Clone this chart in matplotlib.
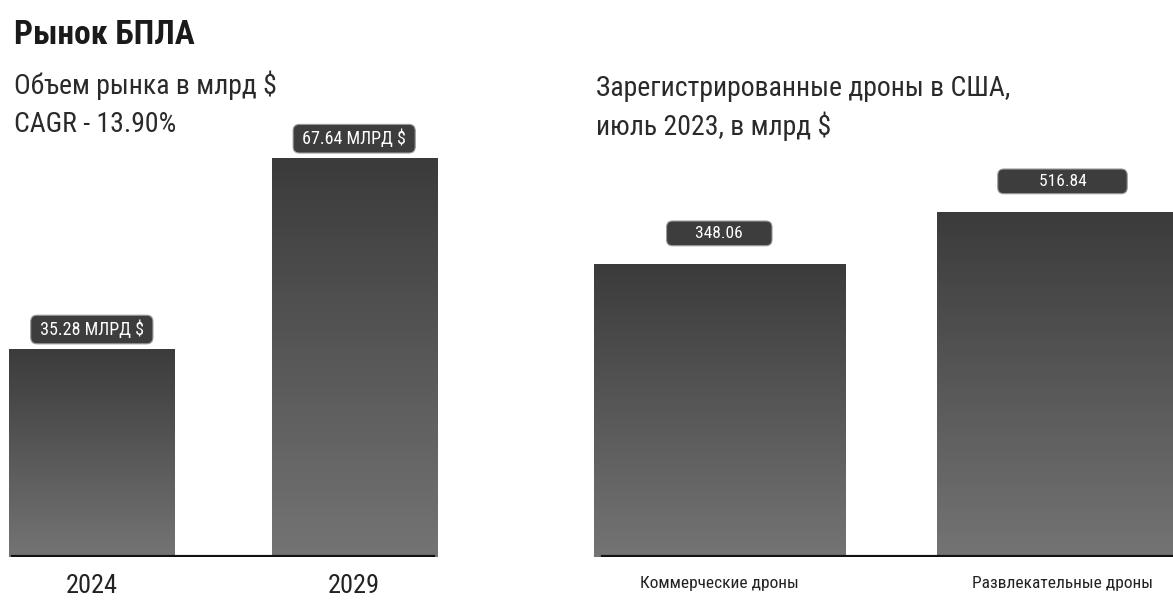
import numpy as np
import matplotlib
matplotlib.use('Agg')
import matplotlib.pyplot as plt
from matplotlib.colors import LinearSegmentedColormap

plt.rcParams['font.family'] = ['Roboto Condensed', 'DejaVu Sans']

# data
years = ['2024', '2029']
market = [35.28, 67.64]
market_labels = [' 35.28 МЛРД $ ', ' 67.64 МЛРД $ ']

drone_types = ['Коммерческие дроны', 'Развлекательные дроны']
drones = [348.06, 516.84]
drone_labels = ['      348.06      ', '         516.84         ']

grad = LinearSegmentedColormap.from_list('g', ['#3b3b3b', '#747474'])
box = dict(boxstyle='round,pad=0.28,rounding_size=0.35', fc='#3d3d3d', ec='#9a9a9a', lw=0.8)


def gradient_bars(ax, x, vals, width, base=0):
    bars = ax.bar(x, np.array(vals) - base, width, bottom=base, color='none', zorder=2)
    g = np.linspace(0, 1, 256).reshape(-1, 1)
    for b in bars:
        x0, y0 = b.get_x(), b.get_y()
        im = ax.imshow(g, cmap=grad, aspect='auto', origin='upper',
                       extent=[x0, x0 + b.get_width(), y0, y0 + b.get_height()], zorder=1)
        im.set_clip_path(b)
    return bars


def style(ax):
    for s in ax.spines.values():
        s.set_visible(False)
    ax.set_yticks([])
    ax.tick_params(axis='x', length=0)


fig = plt.figure(figsize=(11.73, 6.01), dpi=100)

# left: market volume
ax1 = fig.add_axes([0.0, 0.0732, 446 / 1173, 457 / 601])
x = np.arange(len(years))
gradient_bars(ax1, x, market, 0.63)
ax1.set_xlim(-0.35, 1.35)
ax1.set_ylim(0, 77.5)
ax1.axhline(0, xmin=0.03, xmax=0.97, color='#111111', lw=3, zorder=3)
ax1.set_xticks(x)
ax1.set_xticklabels(years, fontsize=19, color='#222222')
ax1.tick_params(axis='x', pad=12)
for xi, v, lab in zip(x, market, market_labels):
    ax1.annotate(lab, (xi, v), xytext=(0, 14), textcoords='offset points',
                 ha='center', va='center', fontsize=13, color='white', bbox=box)
style(ax1)

# right: registered drones
base = -603
ax2 = fig.add_axes([582 / 1173, 0.0732, (1173 - 582) / 1173, 457 / 601])
x2 = np.arange(len(drone_types))
gradient_bars(ax2, x2, drones, 0.732, base=base)
ax2.set_xlim(-0.4, 1.322)
ax2.set_ylim(base, 880)
ax2.axhline(base, xmin=0.035, xmax=1.0, color='#111111', lw=3, zorder=3)
ax2.set_xticks(x2)
ax2.set_xticklabels(drone_types, fontsize=12.5, color='#222222')
ax2.tick_params(axis='x', pad=14)
for xi, v, lab in zip(x2, drones, drone_labels):
    ax2.annotate(lab, (xi, v), xytext=(0, 22), textcoords='offset points',
                 ha='center', va='center', fontsize=12.5, color='white', bbox=box)
style(ax2)

# titles
fig.text(14 / 1173, 1 - 35 / 601, 'Рынок БПЛА', fontsize=24, fontweight='bold',
         color='#1a1a1a', va='center')
fig.text(14 / 1173, 1 - 85 / 601, 'Объем рынка в млрд $', fontsize=20,
         color='#2a2a2a', va='center')
fig.text(14 / 1173, 1 - 124 / 601, 'CAGR - 13.90%', fontsize=20,
         color='#2a2a2a', va='center')
fig.text(596 / 1173, 1 - 88 / 601, 'Зарегистрированные дроны в США,', fontsize=20,
         color='#2a2a2a', va='center')
fig.text(596 / 1173, 1 - 126 / 601, 'июль 2023, в млрд $', fontsize=20,
         color='#2a2a2a', va='center')

fig.savefig('out.png', dpi=100, facecolor='white')
